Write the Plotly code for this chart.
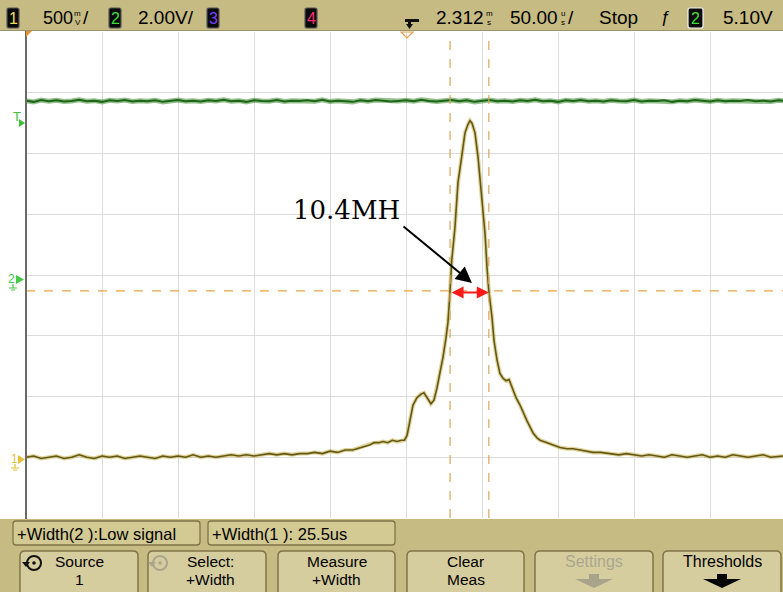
import plotly.graph_objects as go

W, H = 783, 592

# ---- acquisition data -------------------------------------------------------
# time relative to the delay reference (us), channel 1 in volts (500 mV/div)
ch1_t = [-250, -245, -240, -235, -230, -225, -220, -215, -210, -205,
         -200, -195, -190, -185, -180, -175, -170, -165, -160, -155,
         -150, -145, -140, -135, -130, -125, -120, -115, -110, -105,
         -100, -95, -90, -85, -80, -75, -70, -65, -60, -55,
         -50, -45, -40, -35, -30, -27, -24, -21, -18, -15,
         -12, -9, -6, -3, -1, 0.7, 2.6, 4.6, 7.2, 9.9,
         11.8, 13.8, 16.4, 18.4, 20.4, 22.4, 24.3, 26.3, 27.6, 28.6,
         29.0, 30.1, 32.2, 34.2, 36.6, 38.8, 40.8, 42.1, 43.4, 45.4,
         47.4, 49.8, 52.0, 53.3, 54.5, 56.6, 57.9, 59.9, 61.8, 63.8,
         65.8, 67.8, 70.4, 72.4, 75.0, 77.6, 79.6, 81.6, 83.6, 86.2,
         88.2, 92.8, 96.7, 101.3, 105.9, 110, 114.5, 119, 123, 128,
         134, 140, 145, 150, 155, 160, 165, 170, 175, 180,
         185, 190, 195, 200, 205, 210, 215, 220, 225, 230,
         235, 240, 245, 248]
ch1_v = [0.00, 0.01, -0.01, 0.00, 0.01, -0.01, 0.00, 0.02, 0.00, -0.01,
         0.01, 0.00, 0.01, -0.01, 0.00, 0.01, 0.00, -0.01, 0.01, 0.00,
         0.01, 0.00, 0.02, 0.00, 0.01, 0.00, 0.01, 0.02, 0.01, 0.02,
         0.01, 0.02, 0.03, 0.02, 0.03, 0.02, 0.03, 0.03, 0.04, 0.03,
         0.05, 0.04, 0.06, 0.06, 0.08, 0.09, 0.10, 0.12, 0.12, 0.13,
         0.12, 0.14, 0.13, 0.14, 0.14, 0.18, 0.30, 0.43, 0.49, 0.52,
         0.53, 0.49, 0.44, 0.47, 0.57, 0.70, 0.82, 0.98, 1.11, 1.29,
         1.37, 1.62, 1.89, 2.26, 2.47, 2.67, 2.74, 2.77, 2.75, 2.67,
         2.47, 2.17, 1.84, 1.56, 1.37, 1.15, 0.96, 0.80, 0.69, 0.65,
         0.63, 0.64, 0.55, 0.49, 0.43, 0.35, 0.30, 0.25, 0.20, 0.16,
         0.14, 0.12, 0.10, 0.08, 0.07, 0.07, 0.06, 0.05, 0.04, 0.04,
         0.03, 0.02, 0.03, 0.02, 0.01, 0.02, 0.01, 0.00, 0.02, 0.01,
         0.00, 0.01, 0.02, 0.00, 0.01, 0.00, 0.02, 0.01, 0.00, 0.01,
         0.02, 0.00, 0.01, 0.01]

# channel 2 in volts (2.00 V/div), sampled every 5 us
ch2_t = list(range(-250, 255, 5))
ch2_v = [5.90, 5.86, 5.92, 5.88, 5.91, 5.87, 5.89, 5.93, 5.88, 5.90,
         5.86, 5.91, 5.89, 5.92, 5.87, 5.90, 5.88, 5.91, 5.86, 5.89,
         5.92, 5.88, 5.90, 5.87, 5.91, 5.89, 5.93, 5.88, 5.90, 5.86,
         5.91, 5.89, 5.88, 5.92, 5.87, 5.90, 5.89, 5.91, 5.88, 5.93,
         5.87, 5.90, 5.89, 5.86, 5.91, 5.88, 5.92, 5.90, 5.87, 5.89,
         5.91, 5.88, 5.93, 5.89, 5.87, 5.90, 5.92, 5.88, 5.91, 5.86,
         5.89, 5.92, 5.88, 5.90, 5.87, 5.91, 5.89, 5.93, 5.88, 5.90,
         5.86, 5.91, 5.89, 5.92, 5.88, 5.90, 5.87, 5.91, 5.89, 5.88,
         5.92, 5.87, 5.90, 5.89, 5.91, 5.86, 5.90, 5.88, 5.92, 5.89,
         5.87, 5.91, 5.88, 5.90, 5.89, 5.92, 5.88, 5.90, 5.87, 5.91, 5.89]

CH1_SCALE, CH1_POS = 0.5, -3.0     # V/div, ground position (div)
CH2_SCALE, CH2_POS = 2.0, -0.08
cursor_t = [29.0, 54.5]            # us, +Width cursors
cursor_v = 1.37                    # V on channel 1 (50 % threshold)
width_label = "10.4MH"

top_labels = ["500", "2.00V/", "2.312", "50.00", "Stop", "5.10V"]
meas_labels = ["+Width(2 ):Low signal", "+Width(1 ): 25.5us"]
softkeys = [("Source", "1"), ("Select:", "+Width"), ("Measure", "+Width"),
            ("Clear", "Meas"), ("Settings", ""), ("Thresholds", "")]

# ---- helpers (pixel -> paper) ----------------------------------------------
def X(px):
    return px / W


def Y(py):
    return 1 - py / H


def rrect(x0, y0, x1, y1, r):
    return (f"M {X(x0 + r)},{Y(y0)} L {X(x1 - r)},{Y(y0)} "
            f"Q {X(x1)},{Y(y0)} {X(x1)},{Y(y0 + r)} L {X(x1)},{Y(y1 - r)} "
            f"Q {X(x1)},{Y(y1)} {X(x1 - r)},{Y(y1)} L {X(x0 + r)},{Y(y1)} "
            f"Q {X(x0)},{Y(y1)} {X(x0)},{Y(y1 - r)} L {X(x0)},{Y(y0 + r)} "
            f"Q {X(x0)},{Y(y0)} {X(x0 + r)},{Y(y0)} Z")


def poly(points):
    return "M " + " L ".join(f"{X(a)},{Y(b)}" for a, b in points) + " Z"


shapes = []
annotations = []


def pshape(path, fill=None, line=None, lw=1):
    shapes.append(dict(type="path", xref="paper", yref="paper", path=path,
                       fillcolor=fill if fill else "rgba(0,0,0,0)",
                       line=dict(color=line if line else "rgba(0,0,0,0)", width=lw),
                       layer="above"))


def text(px, py, s, size=17, color="black", family="Liberation Sans, Arial, sans-serif",
         xanchor="left"):
    annotations.append(dict(xref="paper", yref="paper", x=X(px), y=Y(py), text=s,
                            showarrow=False, xanchor=xanchor, yanchor="middle",
                            font=dict(size=size, color=color, family=family),
                            borderpad=0))


NARROW = "Liberation Sans Narrow, Liberation Sans, Arial Narrow, sans-serif"
SANS = "Liberation Sans, Arial, sans-serif"

# ---- traces ----------------------------------------------------------------
ch1_y = [v / CH1_SCALE + CH1_POS for v in ch1_v]
ch2_y = [v / CH2_SCALE + CH2_POS for v in ch2_v]

fig = go.Figure()
fig.add_trace(go.Scatter(x=ch2_t, y=ch2_y, mode="lines", hoverinfo="skip",
                         line=dict(color="rgba(60,140,45,0.55)", width=5)))
fig.add_trace(go.Scatter(x=ch2_t, y=ch2_y, mode="lines", hoverinfo="skip",
                         line=dict(color="#1d6618", width=2)))
fig.add_trace(go.Scatter(x=ch1_t, y=ch1_y, mode="lines", hoverinfo="skip",
                         line=dict(color="rgba(185,160,40,0.45)", width=4)))
fig.add_trace(go.Scatter(x=ch1_t, y=ch1_y, mode="lines", hoverinfo="skip",
                         line=dict(color="#655812", width=1.6)))

# ---- cursors ---------------------------------------------------------------
for ct in cursor_t:
    shapes.append(dict(type="line", xref="x", yref="paper", x0=ct, x1=ct,
                       y0=Y(518), y1=Y(32),
                       line=dict(color="#d8a65c", width=1.2, dash="dash")))
cy = cursor_v / CH1_SCALE + CH1_POS
shapes.append(dict(type="line", xref="paper", yref="y", x0=X(26), x1=1, y0=cy, y1=cy,
                   line=dict(color="#e9a445", width=1.2, dash="dash")))

# width arrow between cursors
annotations.append(dict(x=cursor_t[1], y=cy - 0.03, ax=cursor_t[0], ay=cy - 0.03,
                        xref="x", yref="y", axref="x", ayref="y", text="",
                        showarrow=True, arrowside="end+start", arrowhead=2,
                        arrowsize=1.2, arrowwidth=2, arrowcolor="#ff1a1a"))
# label arrow
annotations.append(dict(x=43.4, y=-0.13, ax=-2.6, ay=0.82,
                        xref="x", yref="y", axref="x", ayref="y", text="",
                        showarrow=True, arrowhead=2, arrowsize=1.6, arrowwidth=2,
                        arrowcolor="black"))
text(346, 210, width_label, size=26, family="DejaVu Serif, Liberation Serif, serif",
     xanchor="center")

# ---- screen frame ----------------------------------------------------------
shapes.append(dict(type="line", xref="paper", yref="paper", x0=X(26), x1=X(26),
                   y0=Y(519), y1=Y(31), line=dict(color="#6a6a6a", width=2)))
pshape(poly([(26, 31), (32, 31), (26, 37)]), fill="#e8902a")
pshape(poly([(401, 32), (413, 32), (407, 38)]), line="#e3a04a", lw=1.2)

# channel / trigger markers on the left
text(17, 116, "T", size=13, color="#3cc03c", family=SANS, xanchor="center")
pshape(poly([(19, 119), (25, 123), (19, 127)]), fill="#3cc03c")
text(11, 279, "2", size=12, color="#45c845", family=SANS, xanchor="center")
pshape(poly([(16, 275), (24, 279.5), (16, 284)]), fill="#45c845")
pshape(f"M {X(13)},{Y(284)} L {X(13)},{Y(288)} M {X(9)},{Y(288)} L {X(17)},{Y(288)} "
       f"M {X(11)},{Y(290)} L {X(15)},{Y(290)}", line="#45c845", lw=1.2)
text(14, 459, "1", size=12, color="#e0c23a", family=SANS, xanchor="center")
pshape(poly([(18, 455), (25, 459.5), (18, 464)]), fill="#e0c23a")
pshape(f"M {X(15)},{Y(464)} L {X(15)},{Y(468)} M {X(11)},{Y(468)} L {X(19)},{Y(468)} "
       f"M {X(13)},{Y(470)} L {X(17)},{Y(470)}", line="#e0c23a", lw=1.2)

# ---- top status bar --------------------------------------------------------
shapes.insert(0, dict(type="rect", xref="paper", yref="paper", x0=0, x1=1,
                      y0=Y(30.5), y1=1, fillcolor="#c6bb82", line=dict(width=0),
                      layer="below"))
shapes.append(dict(type="line", xref="paper", yref="paper", x0=0, x1=1,
                   y0=Y(30.5), y1=Y(30.5), line=dict(color="#9b9270", width=1)))

for (x0, x1), digit, col, edge in [((7, 19), "1", "#f0dc5a", "#555"),
                                   ((109, 121), "2", "#3fdc3f", "#555"),
                                   ((207, 219), "3", "#7b3cff", "#555"),
                                   ((305, 317), "4", "#ff2d74", "#555"),
                                   ((688, 703), "2", "#3fdc3f", "#f4f4f4")]:
    pshape(rrect(x0, 8, x1, 28, 2), fill="#0a0a0a", line=edge, lw=1.2)
    text((x0 + x1) / 2, 18.5, digit, size=16, color=col, family=NARROW,
         xanchor="center")

text(42, 18, top_labels[0], size=18, family=SANS)
text(77.5, 13.5, "m", size=8, family=SANS, xanchor="center")
text(77.5, 22.5, "V", size=8, family=SANS, xanchor="center")
text(82, 18, "/", size=19, family=SANS)

text(137, 18, top_labels[1], size=19, family=SANS)

# delay reference glyph
pshape(poly([(405, 19), (419, 19), (419, 22), (411, 22), (411, 24), (413, 24),
             (409.5, 29), (406, 24), (408, 24), (408, 22), (405, 22)]), fill="#111")

text(435, 18, top_labels[2], size=19, family=SANS)
text(489, 13.5, "m", size=8, family=SANS, xanchor="center")
text(489, 22.5, "s", size=8, family=SANS, xanchor="center")

text(509, 18, top_labels[3], size=19, family=SANS)
text(563, 13.5, "u", size=8, family=SANS, xanchor="center")
text(563, 22.5, "s", size=8, family=SANS, xanchor="center")
text(567, 18, "/", size=19, family=SANS)

text(598, 18, top_labels[4], size=19, family=NARROW)
text(665, 18, "ƒ", size=17, family=SANS, xanchor="center")
text(722, 18, top_labels[5], size=19, family=SANS)

# ---- bottom soft-key panel -------------------------------------------------
shapes.insert(0, dict(type="rect", xref="paper", yref="paper", x0=0, x1=1,
                      y0=0, y1=Y(519), fillcolor="#c6bb82", line=dict(width=0),
                      layer="below"))

for (x0, x1), label in zip([(13, 200), (208, 395)], meas_labels):
    pshape(rrect(x0, 521, x1, 545, 3), fill="#d3c993", line="#7f7448", lw=1.3)
    text(x0 + 3, 533.5, label, size=16.5, family=SANS)

button_x = [(20, 138), (148, 266), (278, 395), (407, 524), (535, 653), (663, 781)]
for (x0, x1), (l1, l2) in zip(button_x, softkeys):
    pshape(rrect(x0, 551, x1, 596, 5), fill="#d6cd9f", line="#80754a", lw=1.5)
    cx = (x0 + x1) / 2
    grey = l1 == "Settings"
    col = "#aaa68e" if grey else "black"
    if l1 == "Source":
        cx = 79
    if l1.startswith("Select"):
        cx = 210
    if l2:
        text(cx, 561, l1, size=15.5, color=col, family=SANS, xanchor="center")
        text(cx, 579.5, l2, size=15.5, color=col, family=SANS, xanchor="center")
    else:
        text(cx, 561, l1, size=16, color=col, family=SANS, xanchor="center")
        acol = "#a8a48c" if grey else "#050505"
        pshape(poly([(cx - 5, 574), (cx + 5, 574), (cx + 5, 579), (cx + 19, 579),
                     (cx, 588), (cx - 19, 579), (cx - 5, 579)]), fill=acol)

# rotary-knob icons on the first two soft keys
for icx, col in [(34, "#111111"), (160, "#aaa68e")]:
    shapes.append(dict(type="circle", xref="paper", yref="paper",
                       x0=X(icx - 7), x1=X(icx + 7), y0=Y(570), y1=Y(556),
                       line=dict(color=col, width=2), layer="above"))
    shapes.append(dict(type="circle", xref="paper", yref="paper",
                       x0=X(icx - 1.8), x1=X(icx + 1.8), y0=Y(564.8), y1=Y(561.2),
                       fillcolor=col, line=dict(color=col, width=0), layer="above"))
    pshape(poly([(icx - 12, 562), (icx - 4, 562), (icx - 8, 567)]), fill=col)

# ---- layout ----------------------------------------------------------------
fig.update_layout(
    width=W, height=H, margin=dict(l=0, r=0, t=0, b=0),
    paper_bgcolor="white", plot_bgcolor="white", showlegend=False,
    xaxis=dict(domain=[X(26), 1], range=[-250, (W - 406) * 50 / 76],
               tick0=-250, dtick=50, showgrid=True, gridcolor="#dcdcdc", gridwidth=1,
               zeroline=False, showticklabels=False, ticks="", fixedrange=True),
    yaxis=dict(domain=[Y(518), Y(32)], range=[-4, 4], tick0=-4, dtick=1,
               showgrid=True, gridcolor="#dcdcdc", gridwidth=1,
               zeroline=False, showticklabels=False, ticks="", fixedrange=True),
    shapes=shapes, annotations=annotations,
)

fig.write_html("out.html")
